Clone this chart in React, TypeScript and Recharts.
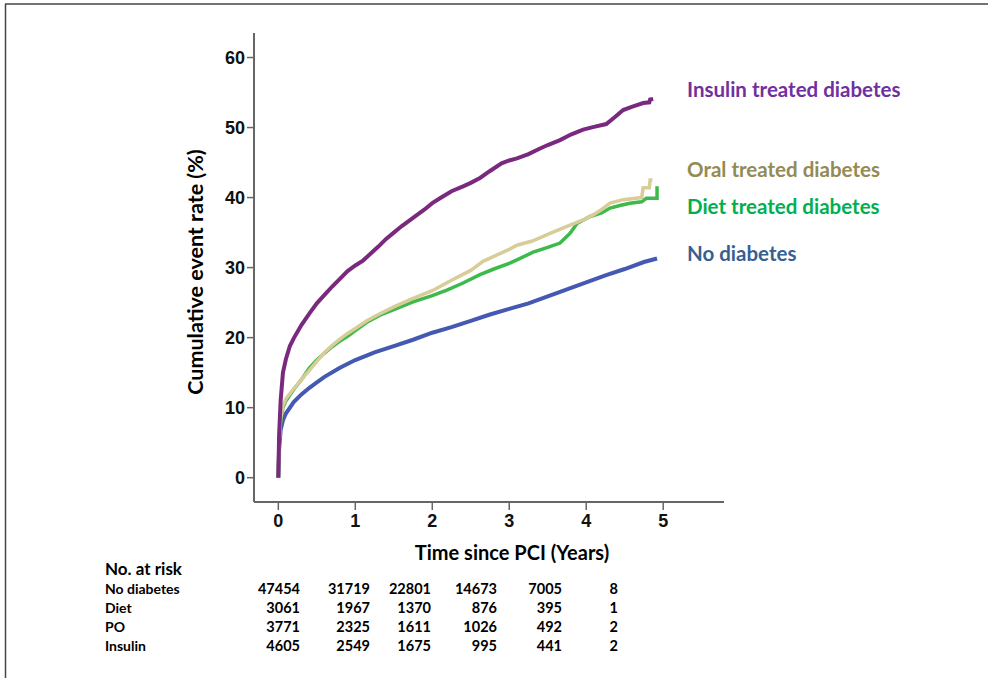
import React from 'react';
import { LineChart, Line, XAxis, YAxis } from 'recharts';

// Kaplan-Meier style cumulative event rates (%) by time (years)
const insulinT = [0, 0.01, 0.03, 0.06, 0.1, 0.15, 0.2, 0.3, 0.4, 0.5, 0.6, 0.7, 0.8, 0.9, 1.0, 1.1, 1.2, 1.3, 1.4, 1.5, 1.6, 1.75, 1.9, 2.0, 2.1, 2.25, 2.4, 2.5, 2.62, 2.75, 2.9, 3.0, 3.1, 3.25, 3.4, 3.5, 3.66, 3.8, 3.96, 4.1, 4.26, 4.35, 4.48, 4.6, 4.74, 4.82, 4.83, 4.87];
const insulinV = [0, 6, 11, 15, 17, 18.8, 19.9, 21.8, 23.4, 24.9, 26.1, 27.3, 28.4, 29.5, 30.3, 31.0, 32.0, 33.0, 34.1, 35.0, 35.9, 37.1, 38.3, 39.2, 39.9, 40.9, 41.6, 42.1, 42.8, 43.8, 44.9, 45.3, 45.6, 46.2, 47.0, 47.5, 48.2, 49.0, 49.7, 50.1, 50.5, 51.3, 52.5, 53.0, 53.5, 53.6, 54.0, 54.1];

const oralT = [0, 0.01, 0.03, 0.06, 0.1, 0.2, 0.3, 0.4, 0.5, 0.6, 0.7, 0.8, 0.9, 1.0, 1.15, 1.3, 1.5, 1.75, 2.0, 2.25, 2.5, 2.66, 2.8, 3.0, 3.1, 3.3, 3.53, 3.75, 3.96, 4.1, 4.2, 4.31, 4.48, 4.72, 4.74, 4.82, 4.83, 4.86];
const oralV = [0, 5, 8.5, 10.3, 11.3, 12.7, 14.0, 15.3, 16.6, 17.9, 18.9, 19.8, 20.6, 21.3, 22.4, 23.3, 24.4, 25.6, 26.7, 28.2, 29.6, 30.9, 31.6, 32.6, 33.2, 33.8, 34.9, 35.9, 36.8, 37.6, 38.3, 39.2, 39.7, 40.0, 41.4, 41.4, 42.5, 42.5];

const dietT = [0, 0.01, 0.03, 0.06, 0.1, 0.2, 0.3, 0.4, 0.5, 0.6, 0.7, 0.8, 0.9, 1.0, 1.15, 1.32, 1.5, 1.75, 2.0, 2.19, 2.4, 2.62, 2.8, 3.0, 3.1, 3.31, 3.5, 3.66, 3.79, 3.88, 4.05, 4.2, 4.31, 4.45, 4.57, 4.72, 4.78, 4.92, 4.92];
const dietV = [0, 4.5, 8, 10, 11, 12.6, 14.0, 15.6, 16.8, 17.8, 18.7, 19.5, 20.2, 21.0, 22.2, 23.2, 24.0, 25.1, 26.0, 26.8, 27.8, 29.0, 29.8, 30.6, 31.1, 32.2, 32.9, 33.5, 34.9, 36.3, 37.3, 37.8, 38.5, 38.9, 39.2, 39.4, 39.9, 39.9, 41.6];

const noDiabT = [0, 0.01, 0.03, 0.06, 0.1, 0.2, 0.3, 0.4, 0.5, 0.6, 0.8, 1.0, 1.25, 1.5, 1.75, 2.0, 2.25, 2.5, 2.75, 3.0, 3.25, 3.5, 3.75, 4.0, 4.25, 4.5, 4.75, 4.92];
const noDiabV = [0, 4, 6.8, 8.2, 9.2, 10.8, 11.9, 12.8, 13.6, 14.4, 15.7, 16.8, 17.9, 18.8, 19.7, 20.7, 21.5, 22.4, 23.3, 24.1, 24.9, 25.9, 26.9, 27.9, 28.9, 29.8, 30.8, 31.3];

const xTicks = [0, 1, 2, 3, 4, 5];
const yTicks = [0, 10, 20, 30, 40, 50, 60];

const seriesLabels = ['Insulin treated diabetes', 'Oral treated diabetes', 'Diet treated diabetes', 'No diabetes'];

const riskGroups = ['No diabetes', 'Diet', 'PO', 'Insulin'];
const riskNoDiab = [47454, 31719, 22801, 14673, 7005, 8];
const riskDiet = [3061, 1967, 1370, 876, 395, 1];
const riskPO = [3771, 2325, 1611, 1026, 492, 2];
const riskInsulin = [4605, 2549, 1675, 995, 441, 2];

const build = (ts: number[], vs: number[]) => ts.map((t, i) => ({ t, v: vs[i] }));

const W = 988;
const H = 678;

const labelFont = 'Lato, "Open Sans", sans-serif';
const tickFont = '"Liberation Sans", Arial, sans-serif';

export default function App() {
  const insulin = build(insulinT, insulinV);
  const oral = build(oralT, oralV);
  const diet = build(dietT, dietV);
  const noDiab = build(noDiabT, noDiabV);

  const legendCfg = [
    { text: seriesLabels[0], color: '#7030A0', y: 89 },
    { text: seriesLabels[1], color: '#948A54', y: 169 },
    { text: seriesLabels[2], color: '#00B050', y: 206 },
    { text: seriesLabels[3], color: '#376092', y: 253 },
  ];
  const riskRows = [riskNoDiab, riskDiet, riskPO, riskInsulin];
  const rowY = [588, 607, 626, 645];
  const colRight = [300, 370, 431, 497, 562, 618];

  const tickStyle = { fill: '#111', fontSize: 18, fontWeight: 700, fontFamily: tickFont };

  return (
    <div style={{ position: 'absolute', left: 0, top: 0, width: W, height: H, background: '#fff' }}>
      <LineChart
        width={W}
        height={H}
        margin={{ top: 33, right: 264, bottom: 146, left: 194 }}
      >
        <XAxis
          type="number"
          dataKey="t"
          domain={[-0.316, 5.79]}
          allowDataOverflow
          ticks={xTicks}
          height={30}
          axisLine={{ stroke: '#666', strokeWidth: 2 }}
          tickLine={{ stroke: '#666', strokeWidth: 1.5 }}
          tickSize={8}
          tickMargin={4}
          tick={tickStyle}
        />
        <YAxis
          type="number"
          domain={[-3.47, 63.5]}
          allowDataOverflow
          ticks={yTicks}
          width={60}
          axisLine={{ stroke: '#666', strokeWidth: 2 }}
          tickLine={{ stroke: '#666', strokeWidth: 1.5 }}
          tickSize={7}
          tickMargin={2}
          tick={tickStyle}
        />
        <Line data={noDiab} dataKey="v" type="linear" stroke="#4559B2" strokeWidth={4} dot={false} isAnimationActive={false} />
        <Line data={diet} dataKey="v" type="linear" stroke="#3DBA4B" strokeWidth={3.5} dot={false} isAnimationActive={false} />
        <Line data={oral} dataKey="v" type="linear" stroke="#D8CC98" strokeWidth={3.5} dot={false} isAnimationActive={false} />
        <Line data={insulin} dataKey="v" type="linear" stroke="#7A2A7E" strokeWidth={4} dot={false} isAnimationActive={false} />
      </LineChart>
      <svg width={W} height={H} style={{ position: 'absolute', left: 0, top: 0, pointerEvents: 'none' }}>
        <line x1={5} y1={4} x2={W} y2={4} stroke="#444" strokeWidth={1.5} />
        <line x1={5.5} y1={4} x2={5.5} y2={H} stroke="#444" strokeWidth={1.5} />
        <text
          x={195}
          y={272}
          transform="rotate(-90 195 272)"
          textAnchor="middle"
          dominantBaseline="central"
          fontFamily={labelFont}
          fontWeight={700}
          fontSize={21.5}
          fill="#000"
        >
          Cumulative event rate (%)
        </text>
        <text x={512} y={552} textAnchor="middle" dominantBaseline="central" fontFamily={labelFont} fontWeight={700} fontSize={20} fill="#000">
          Time since PCI (Years)
        </text>
        {legendCfg.map((l) => (
          <text key={l.text} x={687} y={l.y} dominantBaseline="central" fontFamily={labelFont} fontWeight={700} fontSize={20.5} fill={l.color}>
            {l.text}
          </text>
        ))}
        <text x={105} y={568} dominantBaseline="central" fontFamily={labelFont} fontWeight={700} fontSize={17} fill="#000">
          No. at risk
        </text>
        {riskGroups.map((g, i) => (
          <g key={g}>
            <text x={105} y={rowY[i]} dominantBaseline="central" fontFamily={labelFont} fontWeight={700} fontSize={14} fill="#000">
              {g}
            </text>
            {riskRows[i].map((n, j) => (
              <text key={j} x={colRight[j]} y={rowY[i]} textAnchor="end" dominantBaseline="central" fontFamily={labelFont} fontWeight={700} fontSize={14.5} fill="#000">
                {n}
              </text>
            ))}
          </g>
        ))}
      </svg>
    </div>
  );
}
